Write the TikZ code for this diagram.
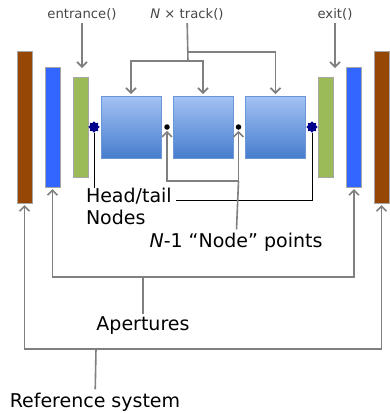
\documentclass[tikz,border=0pt]{standalone}
\usepackage{fontspec}
\setmainfont{DejaVu Sans}
\usetikzlibrary{
positioning,
shapes.geometric,
arrows.meta,
}
\definecolor{barbrown}{RGB}{150,70,5}
\definecolor{barblue}{RGB}{51,102,255}
\definecolor{bargreen}{RGB}{155,187,89}
\definecolor{boxtop}{RGB}{164,194,244}
\definecolor{boxbot}{RGB}{70,125,205}
\definecolor{linegray}{RGB}{128,128,128}
\definecolor{textgray}{RGB}{70,70,70}
\tikzset{
outer sep=0pt,
every node/.style={align=center},
bar/.style={rectangle, draw=gray!70, line width=0.8pt, minimum width=15pt, inner sep=0pt},
trackbox/.style={rectangle, draw=boxbot!80, line width=0.6pt, top color=boxtop, bottom color=boxbot, minimum width=60pt, minimum height=62pt, inner sep=0pt},
endnode/.style={star, star points=8, star point ratio=1.35, fill=blue!55!black, minimum size=11.5pt, inner sep=0pt},
nodept/.style={circle, fill=black, minimum size=5.5pt, inner sep=0pt},
call/.style={font=\fontsize{13.2}{15}\selectfont, text=textgray},
label/.style={font=\fontsize{19}{22}\selectfont},
gline/.style={draw=linegray, line width=1.6pt},
bline/.style={draw=black, line width=0.9pt},
>={Straight Barb[length=5pt, width=10pt]},
}
\begin{document}
\begin{tikzpicture}[x=1pt, y=-1pt]
    \useasboundingbox (0,0) rectangle (390,413);

    % outer bars
    \node [bar, fill=barbrown, minimum height=152pt] (refL) at (24.5,127) {};
    \node [bar, fill=barbrown, minimum height=152pt] (refR) at (381.5,127) {};
    \node [bar, fill=barblue, minimum height=120pt] (apL) at (52.5,127) {};
    \node [bar, fill=barblue, minimum height=120pt] (apR) at (354,127) {};
    \node [bar, fill=bargreen, minimum height=100pt] (entr) at (80.5,127) {};
    \node [bar, fill=bargreen, minimum height=100pt] (exbar) at (325.5,127) {};

    % tracks
    \node [trackbox] (trk1) at (131,127) {};
    \node [trackbox] (trk2) at (203,127) {};
    \node [trackbox] (trk3) at (275.5,127) {};
    \node [endnode] (head) at (94,127) {};
    \node [endnode] (tail) at (312,127) {};
    \node [nodept] (pt1) at (167,127) {};
    \node [nodept] (pt2) at (238.5,127) {};

    % labels
    \node [call] (lblEntr) at (82,14) {entrance()};
    \node [call] (lblTrack) at (187,14) {\textit{N} × track()};
    \node [call] (lblExit) at (335,14) {exit()};
    \node [label, align=left, anchor=north west, inner sep=0pt] (lblHT) at (86,188) {Head/tail\\Nodes};
    \node [label] (lblPts) at (236,242) {\textit{N}-1 “Node” points};
    \node [label] (lblAp) at (143,326) {Apertures};
    \node [label] (lblRef) at (95,402) {Reference system};

    \coordinate (tkHi) at (188,52);
    \coordinate (tkLo) at (188,61);
    \coordinate (htEnd) at (176,200);
    \coordinate (ptsJ) at (238.5,181);
    \coordinate (apJ) at (143,277);
    \coordinate (refJ) at (96,349);

    \draw [gline, ->, shorten >=9pt] (lblEntr.south) -- (lblEntr.south |- entr.north);
    \draw [gline, ->, shorten >=9pt] (lblExit.south) -- (lblExit.south |- exbar.north);
    \draw [gline] (lblTrack) -- (tkLo);
    \draw [gline, ->, shorten >=2pt] (tkHi) -| (trk3);
    \draw [gline, ->, shorten >=2pt] (tkLo) -| (trk1);
    \draw [gline, ->, shorten >=2pt] (tkLo) -| (trk2);

    \draw [bline] (head) -- (head |- lblHT.north);
    \draw [bline] (tail) |- (htEnd);

    \draw [gline, ->, shorten >=1pt] (ptsJ) -| (pt1);
    \draw [gline, ->, shorten >=1pt] (ptsJ) -- (pt2);
    \draw [gline] (ptsJ) -- (lblPts);

    \draw [gline, ->, shorten >=2pt] (apJ) -| (apL);
    \draw [gline, ->, shorten >=2pt] (apJ) -| (apR);
    \draw [gline] (apJ) -- (lblAp);

    \draw [gline, ->, shorten >=2pt] (refJ) -| (refL);
    \draw [gline, ->, shorten >=2pt] (refJ) -| (refR);
    \draw [gline] (refJ) -- (lblRef);
\end{tikzpicture}
\end{document}
